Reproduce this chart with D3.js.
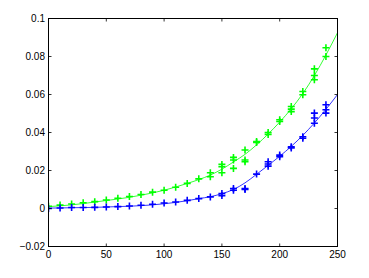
<!DOCTYPE html>
<html>
<head>
<meta charset="utf-8">
<script src="https://cdn.jsdelivr.net/npm/d3@7"></script>
<style>
html,body{margin:0;padding:0;background:#fff;}
svg{display:block;}
text{font-family:"Liberation Sans",Arial,Helvetica,sans-serif;font-size:10px;fill:#000;}
</style>
</head>
<body>
<svg id="chart" width="369" height="278"></svg>
<script>
// measured points (x, value) — green series
const greenX = [0,10,20,30,40,50,60,70,80,90,100,110,120,130,140,140,150,150,150,160,160,160,170,170,170,180,180,190,190,200,200,210,210,210,220,220,230,230,230,240,240];
const greenY = [0.0012,0.0018,0.0024,0.0030,0.0036,0.0045,0.0054,0.0063,0.0074,0.0086,0.0096,0.0112,0.0132,0.0156,0.0188,0.0167,0.0232,0.0220,0.0188,0.0269,0.0255,0.0211,0.0308,0.0255,0.0246,0.0352,0.0347,0.0400,0.0390,0.0467,0.0458,0.0537,0.0523,0.0510,0.0616,0.0599,0.0735,0.0700,0.0678,0.0846,0.0800];
// measured points — blue series
const blueX = [0,10,20,30,40,50,60,70,80,90,100,110,120,130,140,150,150,160,160,170,170,180,190,190,190,200,200,210,210,220,220,230,230,230,240,240,240];
const blueY = [0.0000,0.0003,0.0005,0.0005,0.0006,0.0008,0.0010,0.0013,0.0017,0.0022,0.0029,0.0034,0.0043,0.0052,0.0061,0.0079,0.0068,0.0105,0.0096,0.0105,0.0100,0.0181,0.0246,0.0234,0.0223,0.0281,0.0272,0.0325,0.0319,0.0378,0.0370,0.0502,0.0476,0.0449,0.0546,0.0520,0.0502];
// fitted curves
const fitX = [0,10,20,30,40,50,60,70,80,90,100,110,120,130,140,150,160,170,180,190,200,210,220,230,240,250];
const greenFit = [0.0010,0.0014,0.0019,0.0026,0.0034,0.0042,0.0050,0.0059,0.0070,0.0082,0.0096,0.0113,0.0132,0.0152,0.0176,0.0207,0.0245,0.0285,0.0335,0.0392,0.0455,0.0525,0.0605,0.0700,0.0808,0.0925];
const blueFit = [0.0002,0.0003,0.0004,0.0005,0.0006,0.0008,0.0010,0.0012,0.0015,0.0019,0.0025,0.0032,0.0041,0.0052,0.0062,0.0078,0.0100,0.0135,0.0180,0.0227,0.0275,0.0327,0.0385,0.0450,0.0522,0.0600];
// ticks
const xTicks = [0,50,100,150,200,250];
const yTicks = [-0.02,0,0.02,0.04,0.06,0.08,0.1];
const yTickLabels = ["\u22120.02","0","0.02","0.04","0.06","0.08","0.1"];

const L = 48.5, R = 337.5, T = 18.5, B = 246.5;
const svg = d3.select("#chart");
const x = d3.scaleLinear().domain([0,250]).range([L,R]);
const y = d3.scaleLinear().domain([-0.02,0.1]).range([B,T]);

const plot = svg.append("g");
plot.append("defs").append("clipPath").attr("id","clip")
  .append("rect").attr("x",L).attr("y",T).attr("width",R-L).attr("height",B-T);
const inner = plot.append("g").attr("clip-path","url(#clip)");

const line = d3.line().x(d=>x(d[0])).y(d=>y(d[1])).curve(d3.curveMonotoneX);

function drawSeries(xs, ys, fit, color){
  inner.append("path")
    .attr("d", line(fitX.map((v,i)=>[v,fit[i]])))
    .attr("fill","none").attr("stroke",color).attr("stroke-width",0.8);
  const s = 3.5;
  inner.append("g").selectAll("path").data(xs.map((v,i)=>[v,ys[i]])).join("path")
    .attr("d", d=>{const cx=x(d[0]), cy=y(d[1]); return `M${cx-s},${cy}H${cx+s}M${cx},${cy-s}V${cy+s}`;})
    .attr("stroke",color).attr("stroke-width",1.6).attr("fill","none");
}
drawSeries(greenX, greenY, greenFit, "#00ff00");
drawSeries(blueX, blueY, blueFit, "#0000ff");

// box
svg.append("rect").attr("x",L).attr("y",T).attr("width",R-L).attr("height",B-T)
  .attr("fill","none").attr("stroke","#000").attr("stroke-width",1);

const tl = 3;
// x ticks (bottom & top, inward)
const xa = svg.append("g");
xTicks.forEach(t=>{
  const px = x(t);
  xa.append("line").attr("x1",px).attr("x2",px).attr("y1",B).attr("y2",B-tl).attr("stroke","#000").attr("stroke-width",0.8);
  xa.append("line").attr("x1",px).attr("x2",px).attr("y1",T).attr("y2",T+tl).attr("stroke","#000").attr("stroke-width",0.8);
  xa.append("text").attr("x",px).attr("y",B+11).attr("text-anchor","middle").text(d3.format("d")(t));
});
// y ticks (left & right, inward)
const ya = svg.append("g");
yTicks.forEach((t,i)=>{
  const py = y(t);
  ya.append("line").attr("x1",L).attr("x2",L+tl).attr("y1",py).attr("y2",py).attr("stroke","#000").attr("stroke-width",0.8);
  ya.append("line").attr("x1",R).attr("x2",R-tl).attr("y1",py).attr("y2",py).attr("stroke","#000").attr("stroke-width",0.8);
  ya.append("text").attr("x",L-3.5).attr("y",py).attr("dy","0.35em").attr("text-anchor","end").text(yTickLabels[i]);
});
</script>
</body>
</html>
